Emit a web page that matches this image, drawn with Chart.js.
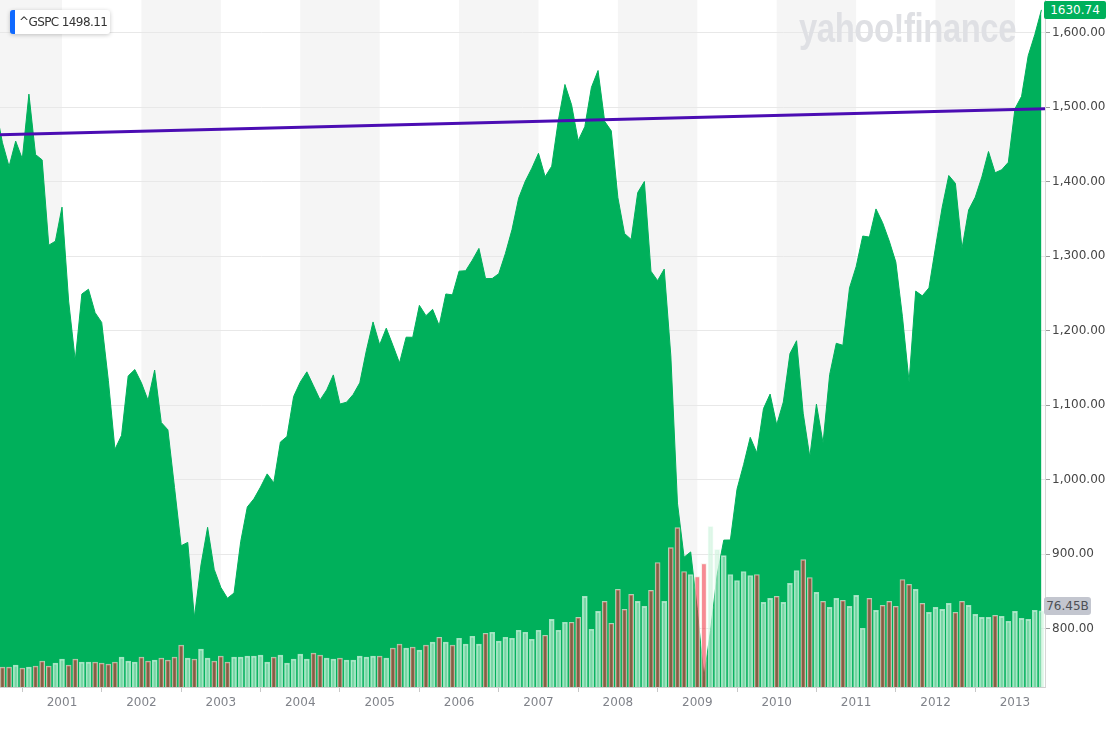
<!DOCTYPE html>
<html>
<head>
<meta charset="utf-8">
<title>^GSPC monthly</title>
<script src="https://cdn.jsdelivr.net/npm/chart.js@4.4.1/dist/chart.umd.min.js"></script>
<style>
  body { margin: 0; background: #fff; font-family: "DejaVu Sans", sans-serif; }
  #wrap { position: relative; width: 1108px; height: 737px; overflow: hidden; }
  #chart { position: absolute; left: 0; top: 0; }
  .logo {
    position: absolute; left: 799px; top: 8px;
    font: bold 40px/40px "Liberation Sans", Arial, sans-serif;
    letter-spacing: -0.5px; color: #dfe0e4;
    transform: scaleX(0.82); transform-origin: left top;
    white-space: nowrap; pointer-events: none;
  }
  .tag {
    position: absolute; left: 10px; top: 10px; height: 24px;
    background: #fff; border-left: 5px solid #0f69ff; border-radius: 3px;
    box-shadow: 0 1px 4px rgba(0, 0, 0, 0.22);
    padding: 0 3px 0 4px; font-size: 12px; line-height: 24px; color: #333;
    letter-spacing: -0.6px; white-space: nowrap;
  }
  .last-price {
    position: absolute; left: 1044px; top: 1px; width: 62px; height: 18px;
    background: #00b05b; color: #fff; border-radius: 2px;
    font-size: 12px; line-height: 18px; text-align: center;
  }
  .last-vol {
    position: absolute; left: 1044px; top: 597px; width: 47px; height: 18px;
    background: #c3c6cf; color: #4d4f55; border-radius: 3px;
    font-size: 12px; line-height: 18px; text-align: center;
  }
</style>
</head>
<body>
<div id="wrap">
  <canvas id="chart" width="1108" height="737"></canvas>
  <div class="logo">yahoo!finance</div>
  <div class="tag">^GSPC&nbsp;1498.11</div>
  <div class="last-price">1630.74</div>
  <div class="last-vol">76.45B</div>
</div>
<script>
// months counted from Jan 2000; first close is Mar 2000
const firstMonth = 2;

// monthly closes, Mar 2000 .. May 2013
const closes = [
  1498.58, 1452.43, 1420.60, 1454.60, 1430.83, 1517.68, 1436.51, 1429.40, 1314.95, 1320.28,
  1366.01, 1239.94, 1160.33, 1249.46, 1255.82, 1224.42, 1211.23, 1133.58, 1040.94, 1059.78, 1139.45, 1148.08,
  1130.20, 1106.73, 1147.39, 1076.92, 1067.14, 989.82, 911.62, 916.07, 815.28, 885.76, 936.31, 879.82,
  855.70, 841.15, 848.18, 916.92, 963.59, 974.50, 990.31, 1008.01, 995.97, 1050.71, 1058.20, 1111.92,
  1131.13, 1144.94, 1126.21, 1107.30, 1120.68, 1140.84, 1101.72, 1104.24, 1114.58, 1130.20, 1173.82, 1211.92,
  1181.27, 1203.60, 1180.59, 1156.85, 1191.50, 1191.33, 1234.18, 1220.33, 1228.81, 1207.01, 1249.48, 1248.29,
  1280.08, 1280.66, 1294.83, 1310.61, 1270.09, 1270.20, 1276.66, 1303.82, 1335.85, 1377.94, 1400.63, 1418.30,
  1438.24, 1406.82, 1420.86, 1482.37, 1530.62, 1503.35, 1455.27, 1473.99, 1526.75, 1549.38, 1481.14, 1468.36,
  1378.55, 1330.63, 1322.70, 1385.59, 1400.38, 1280.00, 1267.38, 1282.83, 1166.36, 968.75, 896.24, 903.25,
  825.88, 735.09, 797.87, 872.81, 919.14, 919.32, 987.48, 1020.62, 1057.08, 1036.19, 1095.63, 1115.10,
  1073.87, 1104.49, 1169.43, 1186.69, 1089.41, 1030.71, 1101.60, 1049.33, 1141.20, 1183.26, 1180.55, 1257.64,
  1286.12, 1327.22, 1325.83, 1363.61, 1345.20, 1320.64, 1292.28, 1218.89, 1131.42, 1253.30, 1246.96, 1257.60,
  1312.41, 1365.68, 1408.47, 1397.91, 1310.33, 1362.16, 1379.32, 1406.58, 1440.67, 1412.16, 1416.18, 1426.19,
  1498.11, 1514.68, 1569.19, 1597.57, 1630.74
];

// monthly volume in billions, Apr 2000 .. May 2013
const volumes = [
  20, 20, 22, 19, 20, 21, 26, 21, 24,
  28, 22, 28, 25, 25, 25, 24, 23, 25, 30, 26, 25,
  30, 26, 27, 29, 27, 30, 42, 29, 28, 38, 29, 26,
  31, 25, 30, 30, 31, 31, 32, 25, 30, 32, 24, 28,
  33, 28, 34, 32, 29, 28, 29, 27, 27, 31, 30, 31,
  31, 29, 39, 43, 39, 40, 37, 42, 45, 50, 45, 42,
  49, 43, 51, 43, 54, 55, 46, 50, 49, 57, 55, 48,
  57, 52, 68, 57, 65, 65, 70, 91, 58, 76, 86, 64,
  98, 78, 93, 86, 81, 97, 125, 86, 140, 160, 116, 113,
  111, 124, 161, 138, 132, 113, 107, 116, 112, 113, 85, 89,
  91, 85, 104, 117, 128, 110, 95, 86, 80, 89, 87, 81,
  92, 59, 89, 77, 82, 86, 81, 108, 103, 98, 84, 75,
  80, 78, 84, 75, 86, 82, 73, 70, 70, 72, 71, 66,
  76, 69, 68, 77, 76.45
];

const yearLabels = ['2001', '2002', '2003', '2004', '2005', '2006', '2007',
  '2008', '2009', '2010', '2011', '2012', '2013'];
const priceTicks = [800, 900, 1000, 1100, 1200, 1300, 1400, 1500, 1600];
const refLine = [1463, 1498.11];

const xMin = 2.63, xMax = 160.54;

const pricePoints = closes.map((c, i) => ({ x: firstMonth + i, y: c }));
const volPoints = volumes.map((v, i) => ({ x: firstMonth + 1 + i, y: v }));
const volUp = volumes.map((v, i) => closes[i + 1] >= closes[i]);
const refPoints = [{ x: xMin, y: refLine[0] }, { x: xMax, y: refLine[1] }];

const green = '#00b05b';

// grey bands behind even years
const yearBands = {
  id: 'yearBands',
  beforeDraw(chart) {
    const { ctx, chartArea: a, scales: { x } } = chart;
    ctx.save();
    ctx.fillStyle = '#f5f5f5';
    for (let k = 0; k < 14; k += 2) {
      const x0 = Math.max(a.left, x.getPixelForValue(12 * k));
      const x1 = Math.min(a.right, x.getPixelForValue(12 * k + 12));
      if (x1 > x0) ctx.fillRect(x0, a.top, x1 - x0, a.bottom - a.top);
    }
    ctx.restore();
  }
};

Chart.defaults.font.family = '"DejaVu Sans", sans-serif';
Chart.defaults.font.size = 12;

new Chart(document.getElementById('chart'), {
  type: 'line',
  data: {
    datasets: [
      {
        type: 'bar',
        data: volPoints,
        yAxisID: 'vol',
        order: 0,
        barThickness: 5,
        borderWidth: 1,
        backgroundColor: (c) => volUp[c.dataIndex] ? 'rgba(203,242,217,0.59)' : 'rgba(240,30,50,0.52)',
        borderColor: (c) => volUp[c.dataIndex] ? 'rgba(225,250,235,0.7)' : 'rgba(245,230,220,0.7)'
      },
      {
        data: refPoints,
        yAxisID: 'y',
        order: 1,
        borderColor: '#4b0db3',
        borderWidth: 3,
        pointRadius: 0,
        fill: false
      },
      {
        data: pricePoints,
        yAxisID: 'y',
        order: 2,
        borderColor: green,
        backgroundColor: green,
        borderWidth: 1,
        pointRadius: 0,
        tension: 0,
        fill: 'start'
      }
    ]
  },
  options: {
    responsive: false,
    animation: false,
    layout: { padding: 0 },
    plugins: { legend: { display: false }, tooltip: { enabled: false } },
    scales: {
      x: {
        type: 'linear',
        min: xMin,
        max: xMax,
        offset: false,
        afterBuildTicks: (s) => { s.ticks = yearLabels.map((l, i) => ({ value: 12 * (i + 1) })); },
        ticks: {
          autoSkip: false,
          maxRotation: 0,
          padding: 4,
          color: '#80838a',
          callback: (v) => yearLabels[v / 12 - 1]
        },
        grid: { drawOnChartArea: false, tickLength: 5, color: '#c8c8c8' },
        border: { color: '#d0d0d0' },
        afterFit: (s) => { s.height = 50; s.paddingLeft = 0; s.paddingRight = 0; }
      },
      y: {
        position: 'right',
        min: 722,
        max: 1644,
        afterBuildTicks: (s) => { s.ticks = priceTicks.map((v) => ({ value: v })); },
        ticks: {
          padding: 2,
          color: '#464646',
          callback: (v) => v.toLocaleString('en-US', { minimumFractionDigits: 2 })
        },
        grid: { color: '#e8e8e8', tickLength: 5, tickColor: '#9a9a9a' },
        border: { color: '#d6d6d6' },
        afterFit: (s) => { s.width = 63; s.paddingTop = 0; s.paddingBottom = 0; }
      },
      vol: { display: false, min: 0, max: 690 }
    }
  },
  plugins: [yearBands]
});
</script>
</body>
</html>
